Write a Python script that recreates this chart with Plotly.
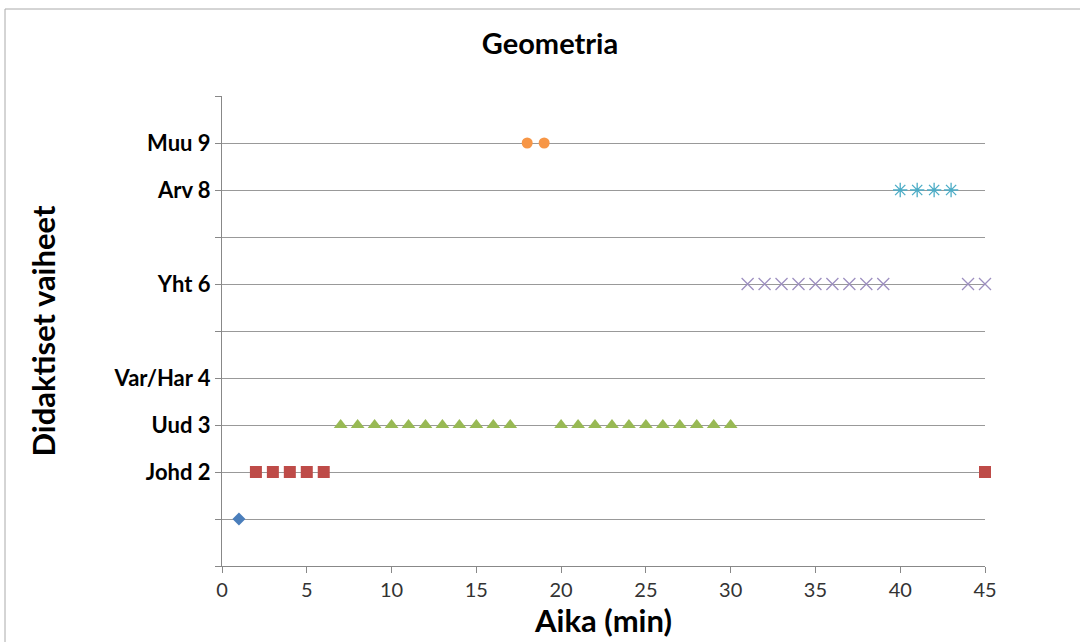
import plotly.graph_objects as go

# Data
ytick_vals = [0, 1, 2, 3, 4, 5, 6, 7, 8, 9, 10]
ytick_text = ["", "", "Johd 2", "Uud 3", "Var/Har 4", "", "Yht 6", "", "Arv 8", "Muu 9", ""]
xtick_vals = [0, 5, 10, 15, 20, 25, 30, 35, 40, 45]

s1_x = [1]
s1_y = [1]
s2_x = [2, 3, 4, 5, 6, 45]
s2_y = [2, 2, 2, 2, 2, 2]
s3_x = [7, 8, 9, 10, 11, 12, 13, 14, 15, 16, 17, 20, 21, 22, 23, 24, 25, 26, 27, 28, 29, 30]
s3_y = [3] * len(s3_x)
s6_x = [31, 32, 33, 34, 35, 36, 37, 38, 39, 44, 45]
s6_y = [6] * len(s6_x)
s8_x = [40, 41, 42, 43]
s8_y = [8] * len(s8_x)
s9_x = [18, 19]
s9_y = [9] * len(s9_x)

font = "Lato"
fig = go.Figure()
fig.add_trace(go.Scatter(x=s1_x, y=s1_y, mode="markers", cliponaxis=False,
                         marker=dict(symbol="diamond", size=10, color="#4a7ebb")))
fig.add_trace(go.Scatter(x=s2_x, y=s2_y, mode="markers", cliponaxis=False,
                         marker=dict(symbol="square", size=12, color="#be4b48")))
fig.add_trace(go.Scatter(x=s3_x, y=s3_y, mode="markers", cliponaxis=False,
                         marker=dict(symbol="triangle-up", size=12, color="#98b954")))
fig.add_trace(go.Scatter(x=s6_x, y=s6_y, mode="markers", cliponaxis=False,
                         marker=dict(symbol="x-thin-open", size=12, color="#9d8fc0",
                                     line=dict(width=1.3, color="#9d8fc0"))))
fig.add_trace(go.Scatter(x=s8_x, y=s8_y, mode="markers", cliponaxis=False,
                         marker=dict(symbol="asterisk-open", size=12, color="#4bacc6",
                                     line=dict(width=1.3, color="#4bacc6"))))
fig.add_trace(go.Scatter(x=s9_x, y=s9_y, mode="markers", cliponaxis=False,
                         marker=dict(symbol="circle", size=11, color="#f79646")))

fig.update_layout(
    width=1080, height=642,
    margin=dict(l=222, r=95, t=96, b=76),
    paper_bgcolor="white", plot_bgcolor="white",
    showlegend=False,
    font=dict(family=font, color="#000"),
    title=dict(text="<b>Geometria</b>", x=550 / 1080, xref="container", xanchor="center",
               y=1 - 44 / 642, yanchor="middle", font=dict(size=29, family=font)),
)
fig.update_xaxes(range=[0, 45], tickvals=xtick_vals,
                 showgrid=False, zeroline=False, showline=True, linecolor="#888",
                 linewidth=1, ticks="outside", ticklen=6, tickcolor="#888",
                 tickfont=dict(size=20, color="#333", family=font),
                 title=dict(text="<b>Aika (min)</b>", font=dict(size=31, family=font), standoff=4))
fig.update_yaxes(range=[0, 10], tickvals=ytick_vals,
                 ticktext=[f"<b>{t}</b>" if t else "" for t in ytick_text],
                 showgrid=True, gridcolor="#999", gridwidth=1, zeroline=False,
                 showline=True, linecolor="#888", linewidth=1,
                 ticks="outside", ticklen=6, tickcolor="#888",
                 tickfont=dict(size=22, color="#000", family=font, weight="bold"),
                 title=dict(text="<b>Didaktiset vaiheet</b>", font=dict(size=31, family=font), standoff=48))
fig.add_shape(type="rect", xref="paper", yref="paper",
              x0=(5 - 222) / 763, x1=(1100 - 222) / 763,
              y0=(566 - 660) / 470, y1=(566 - 9) / 470,
              line=dict(color="#aaa", width=1), layer="below")
fig.write_html("out.html")
